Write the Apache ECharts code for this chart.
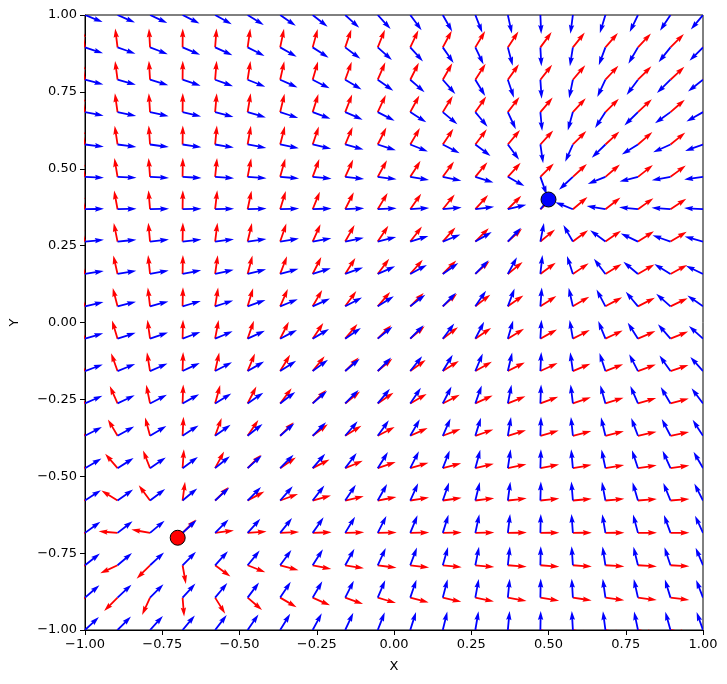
<!DOCTYPE html>
<html>
<head>
<meta charset="utf-8">
<script src="https://cdn.jsdelivr.net/npm/echarts@6/dist/echarts.min.js"></script>
<style>html,body{margin:0;padding:0;background:#fff}#c{width:727px;height:684px}</style>
</head>
<body>
<div id="c"></div>
<script>
// grid positions (same for X columns and Y rows)
var gridVals = [-1, -0.8947, -0.7895, -0.6842, -0.5789, -0.4737, -0.3684, -0.2632, -0.1579, -0.0526,
                0.0526, 0.1579, 0.2632, 0.3684, 0.4737, 0.5789, 0.6842, 0.7895, 0.8947, 1];
// red field components (U per column, V per row)
var redU = [-0.3, -0.1947, -0.0895, 0.0158, 0.1211, 0.2263, 0.3316, 0.4368, 0.5421, 0.6474,
            0.7526, 0.8579, 0.9632, 1.0684, 1.1737, 1.2789, 1.3842, 1.4895, 1.5947, 1.7];
var redV = [-0.3, -0.1947, -0.0895, 0.0158, 0.1211, 0.2263, 0.3316, 0.4368, 0.5421, 0.6474,
            0.7526, 0.8579, 0.9632, 1.0684, 1.1737, 1.2789, 1.3842, 1.4895, 1.5947, 1.7];
// blue field components (U per column, V per row)
var blueU = [1.5, 1.3947, 1.2895, 1.1842, 1.0789, 0.9737, 0.8684, 0.7632, 0.6579, 0.5526,
             0.4474, 0.3421, 0.2368, 0.1316, 0.0263, -0.0789, -0.1842, -0.2895, -0.3947, -0.5];
var blueV = [1.4, 1.2947, 1.1895, 1.0842, 0.9789, 0.8737, 0.7684, 0.6632, 0.5579, 0.4526,
             0.3474, 0.2421, 0.1368, 0.0316, -0.0737, -0.1789, -0.2842, -0.3895, -0.4947, -0.6];
// marked points
var redPoint = [-0.7, -0.7];
var bluePoint = [0.5, 0.4];

function buildField(U, V) {
  var out = [];
  for (var i = 0; i < gridVals.length; i++) {
    for (var j = 0; j < gridVals.length; j++) {
      out.push([gridVals[j], gridVals[i], U[j], V[i]]);
    }
  }
  return out;
}

var ARROW_LEN = 19, SHAFT_W = 1.8;
function arrowRender(color) {
  return function (params, api) {
    var p = api.coord([api.value(0), api.value(1)]);
    var u = api.value(2), v = -api.value(3);
    var n = Math.sqrt(u * u + v * v) || 1;
    var dx = u / n, dy = v / n, px = -dy, py = dx;
    var w = SHAFT_W, L = ARROW_LEN, hl = 5 * w, ha = 4.5 * w, hw = 1.5 * w;
    var loc = [[0, -w / 2], [L - ha, -w / 2], [L - hl, -hw], [L, 0], [L - hl, hw], [L - ha, w / 2], [0, w / 2]];
    var pts = loc.map(function (q) {
      return [p[0] + dx * q[0] + px * q[1], p[1] + dy * q[0] + py * q[1]];
    });
    return { type: 'polygon', shape: { points: pts }, style: { fill: color, stroke: null } };
  };
}

var fmt = function (v) { return v.toFixed(2).replace('-', '\u2212'); };
var axisCommon = {
  type: 'value', min: -1, max: 1, interval: 0.25,
  axisLine: { show: true, onZero: false, lineStyle: { color: '#000', width: 1 } },
  axisTick: { show: true, inside: false, length: 5, lineStyle: { color: '#000' } },
  axisLabel: { formatter: fmt, color: '#000', fontFamily: 'DejaVu Sans', fontSize: 13, margin: 8 },
  splitLine: { show: false },
  nameTextStyle: { color: '#000', fontFamily: 'DejaVu Sans', fontSize: 13 }
};

var chart = echarts.init(document.getElementById('c'), null, { renderer: 'canvas' });
chart.setOption({
  animation: false,
  backgroundColor: '#fff',
  grid: { left: 83, right: 24, top: 15, bottom: 54, show: true, borderColor: '#000', borderWidth: 1, backgroundColor: 'transparent' },
  xAxis: Object.assign({}, axisCommon, { name: 'X', nameLocation: 'middle', nameGap: 30 }),
  yAxis: Object.assign({}, axisCommon, { name: 'Y', nameLocation: 'middle', nameGap: 64 }),
  series: [
    { type: 'custom', clip: true, renderItem: arrowRender('#ff0000'), data: buildField(redU, redV), z: 2 },
    { type: 'custom', clip: true, renderItem: arrowRender('#0000ff'), data: buildField(blueU, blueV), z: 3 },
    { type: 'scatter', data: [redPoint], symbolSize: 15, itemStyle: { color: '#ff0000', opacity: 1, borderColor: '#000', borderWidth: 1 }, z: 5 },
    { type: 'scatter', data: [bluePoint], symbolSize: 15, itemStyle: { color: '#0000ff', opacity: 1, borderColor: '#000', borderWidth: 1 }, z: 5 }
  ]
});
</script>
</body>
</html>
